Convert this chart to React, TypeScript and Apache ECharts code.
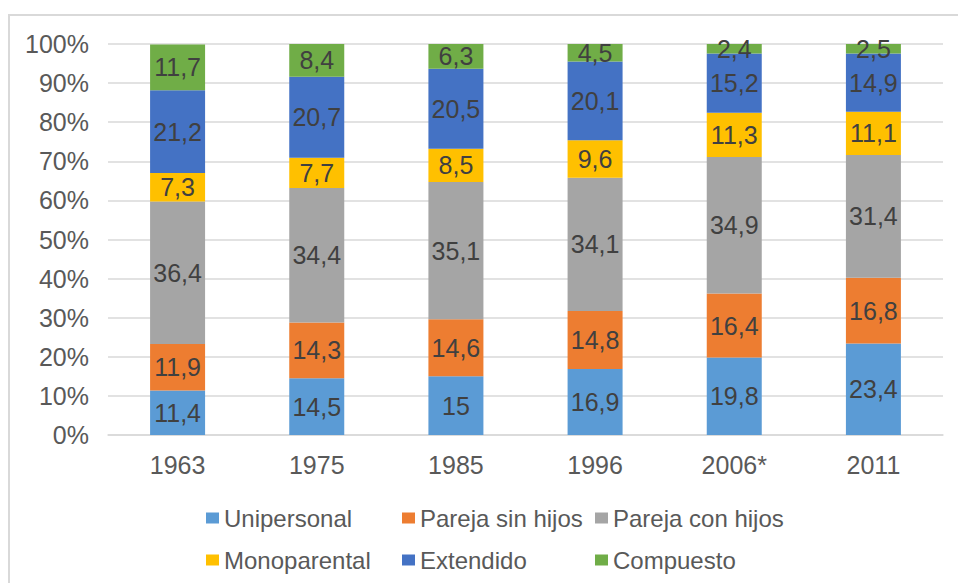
import React, { useEffect, useRef } from "react";
import * as echarts from "echarts";

const categories = ["1963", "1975", "1985", "1996", "2006*", "2011"];
const unipersonal = [11.4, 14.5, 15, 16.9, 19.8, 23.4];
const parejaSinHijos = [11.9, 14.3, 14.6, 14.8, 16.4, 16.8];
const parejaConHijos = [36.4, 34.4, 35.1, 34.1, 34.9, 31.4];
const monoparental = [7.3, 7.7, 8.5, 9.6, 11.3, 11.1];
const extendido = [21.2, 20.7, 20.5, 20.1, 15.2, 14.9];
const compuesto = [11.7, 8.4, 6.3, 4.5, 2.4, 2.5];

const seriesDefs = [
  { name: "Unipersonal", data: unipersonal, color: "#5B9BD5" },
  { name: "Pareja sin hijos", data: parejaSinHijos, color: "#ED7D31" },
  { name: "Pareja con hijos", data: parejaConHijos, color: "#A5A5A5" },
  { name: "Monoparental", data: monoparental, color: "#FFC000" },
  { name: "Extendido", data: extendido, color: "#4472C4" },
  { name: "Compuesto", data: compuesto, color: "#70AD47" },
];

const FONT = "'Liberation Sans', Arial, sans-serif";

export default function App() {
  const ref = useRef<HTMLDivElement>(null);
  useEffect(() => {
    document.body.style.margin = "0";
    if (!ref.current) return;
    const chart = echarts.init(ref.current, null, { renderer: "svg" });
    const legendPos = [
      [206, 506],
      [402, 506],
      [595, 506],
      [206, 548],
      [402, 548],
      [595, 548],
    ];
    const option = {
      animation: false,
      backgroundColor: "#ffffff",
      textStyle: { fontFamily: FONT },
      grid: { left: 108, right: 15, top: 44, bottom: 148, containLabel: false },
      legend: seriesDefs.map((s, i) => ({
        data: [s.name],
        left: legendPos[i][0],
        top: legendPos[i][1],
        itemWidth: 13,
        itemHeight: 11,
        itemGap: 0,
        padding: 0,
        icon: "rect",
        selectedMode: false,
        textStyle: { fontSize: 24, color: "#595959", fontFamily: FONT },
      })),
      xAxis: {
        type: "category",
        data: categories,
        axisLine: { lineStyle: { color: "#D9D9D9", width: 1.5 } },
        axisTick: { show: false },
        axisLabel: { fontSize: 25, color: "#595959", margin: 17, fontFamily: FONT },
      },
      yAxis: {
        type: "value",
        min: 0,
        max: 100,
        interval: 10,
        axisLine: { show: false },
        axisTick: { show: false },
        splitLine: { lineStyle: { color: "#D9D9D9", width: 1.5 } },
        axisLabel: { formatter: "{value}%", fontSize: 25, color: "#595959", margin: 19, fontFamily: FONT },
      },
      graphic: [
        {
          type: "rect",
          shape: { x: 9, y: 15, width: 960, height: 600 },
          style: { fill: "none", stroke: "#D9D9D9", lineWidth: 2 },
          silent: true,
          z: 0,
        },
      ],
      series: seriesDefs.map((s) => ({
        name: s.name,
        type: "bar",
        stack: "total",
        barWidth: 55,
        data: s.data,
        itemStyle: { color: s.color },
        label: {
          show: true,
          position: "inside",
          fontSize: 25,
          color: "#404040",
          fontFamily: FONT,
          formatter: (p: any) => String(p.value).replace(".", ","),
        },
      })),
    };
    chart.setOption(option as any);
    return () => chart.dispose();
  }, []);
  return <div ref={ref} style={{ width: 958, height: 583 }} />;
}
